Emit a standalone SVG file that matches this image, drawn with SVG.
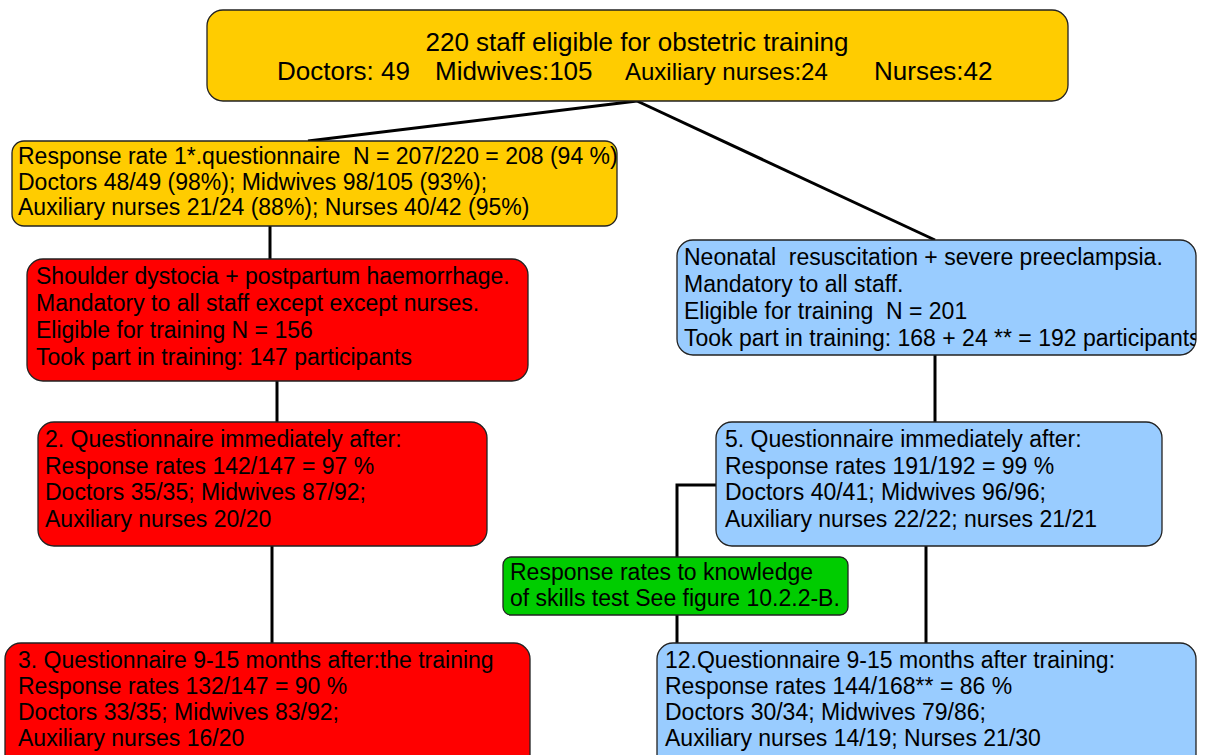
<svg xmlns="http://www.w3.org/2000/svg" width="1209" height="755" viewBox="0 0 1209 755">
  <style>
    .box { stroke: #222; stroke-width: 1.3; }
    .yellow { fill: #FFCC00; }
    .red { fill: #FF0000; }
    .blue { fill: #99CCFF; }
    .green { fill: #00CC00; }
    text { font-family: "Liberation Sans", Arial, sans-serif; font-size: 23px; fill: #000; white-space: pre; }
    .big { font-size: 26px; }
    .aux { font-size: 24px; }
    .conn { stroke: #000; stroke-width: 3; fill: none; }
  </style>
  <defs>
    <clipPath id="clipNeo">
      <rect x="677" y="240" width="519" height="115" rx="16"/>
    </clipPath>
  </defs>
  <rect width="1209" height="755" fill="#fff"/>

  <g id="connectors">
    <line class="conn" x1="637" y1="101" x2="308" y2="141"/>
    <line class="conn" x1="637" y1="101" x2="935" y2="240"/>
    <line class="conn" x1="270" y1="226" x2="270" y2="259"/>
    <line class="conn" x1="277" y1="381" x2="277" y2="422"/>
    <line class="conn" x1="272" y1="546" x2="272" y2="643"/>
    <line class="conn" x1="935" y1="355" x2="935" y2="422"/>
    <polyline class="conn" points="716,485 677,485 677,557"/>
    <line class="conn" x1="677" y1="615" x2="677" y2="643"/>
    <line class="conn" x1="926" y1="546" x2="926" y2="643"/>
  </g>

  <g id="eligible">
    <rect class="box yellow" x="207" y="10" width="861" height="91" rx="16"/>
    <text class="big" x="637" y="51" text-anchor="middle">220 staff eligible for obstetric training</text>
    <text class="big" y="80"><tspan x="277">Doctors: 49</tspan><tspan x="435">Midwives:105</tspan><tspan class="aux" x="625">Auxiliary nurses:24</tspan><tspan x="874">Nurses:42</tspan></text>
  </g>

  <g id="response1">
    <rect class="box yellow" x="12" y="141" width="605" height="85" rx="12"/>
    <text x="18" y="164">Response rate 1*.questionnaire  N = 207/220 = 208 (94 %)</text>
    <text x="18" y="190">Doctors 48/49 (98%); Midwives 98/105 (93%);</text>
    <text x="18" y="215">Auxiliary nurses 21/24 (88%); Nurses 40/42 (95%)</text>
  </g>

  <g id="shoulder">
    <rect class="box red" x="27" y="259" width="501" height="122" rx="16"/>
    <text x="36" y="284">Shoulder dystocia + postpartum haemorrhage.</text>
    <text x="36" y="311">Mandatory to all staff except except nurses.</text>
    <text x="36" y="338">Eligible for training N = 156</text>
    <text x="36" y="365">Took part in training: 147 participants</text>
  </g>

  <g id="q2">
    <rect class="box red" x="38" y="422" width="449" height="124" rx="16"/>
    <text x="45" y="447">2. Questionnaire immediately after:</text>
    <text x="45" y="474">Response rates 142/147 = 97 %</text>
    <text x="45" y="500">Doctors 35/35; Midwives 87/92;</text>
    <text x="45" y="527">Auxiliary nurses 20/20</text>
  </g>

  <g id="q3">
    <rect class="box red" x="5" y="643" width="525" height="130" rx="16"/>
    <text x="18" y="668">3. Questionnaire 9-15 months after:the training</text>
    <text x="18" y="694">Response rates 132/147 = 90 %</text>
    <text x="18" y="720">Doctors 33/35; Midwives 83/92;</text>
    <text x="18" y="746">Auxiliary nurses 16/20</text>
  </g>

  <g id="neonatal">
    <rect class="box blue" x="677" y="240" width="519" height="115" rx="16"/>
    <g clip-path="url(#clipNeo)">
      <text x="684" y="265">Neonatal  resuscitation + severe preeclampsia.</text>
      <text x="684" y="292">Mandatory to all staff.</text>
      <text x="684" y="319">Eligible for training  N = 201</text>
      <text x="684" y="346">Took part in training: 168 + 24 ** = 192 participants</text>
    </g>
  </g>

  <g id="q5">
    <rect class="box blue" x="716" y="422" width="446" height="124" rx="16"/>
    <text x="725" y="447">5. Questionnaire immediately after:</text>
    <text x="725" y="474">Response rates 191/192 = 99 %</text>
    <text x="725" y="500">Doctors 40/41; Midwives 96/96;</text>
    <text x="725" y="527">Auxiliary nurses 22/22; nurses 21/21</text>
  </g>

  <g id="skills">
    <rect class="box green" x="503" y="557" width="345" height="58" rx="8"/>
    <text x="510" y="580">Response rates to knowledge</text>
    <text x="510" y="606">of skills test See figure 10.2.2-B.</text>
  </g>

  <g id="q12">
    <rect class="box blue" x="657" y="643" width="539" height="130" rx="16"/>
    <text x="665" y="668">12.Questionnaire 9-15 months after training:</text>
    <text x="665" y="694">Response rates 144/168** = 86 %</text>
    <text x="665" y="720">Doctors 30/34; Midwives 79/86;</text>
    <text x="665" y="746">Auxiliary nurses 14/19; Nurses 21/30</text>
  </g>
</svg>
